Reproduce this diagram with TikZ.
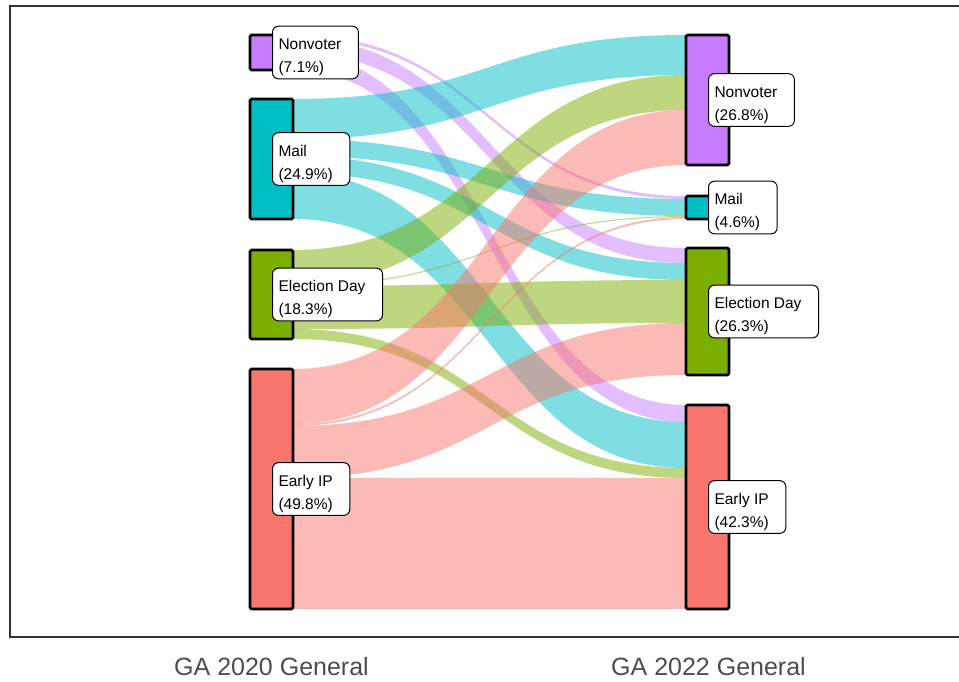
\documentclass[tikz,border=0pt]{standalone}
\usepackage{fontspec}
\setmainfont{Liberation Sans}
\definecolor{nvcol}{HTML}{C77CFF}
\definecolor{mailcol}{HTML}{00BFC4}
\definecolor{edcol}{HTML}{7CAE00}
\definecolor{eipcol}{HTML}{F8766D}
\definecolor{framecol}{HTML}{333333}
\definecolor{axiscol}{HTML}{4D4D4D}
% ribbon between the two columns: colour, left top, left bottom, right top, right bottom
\newcommand\ribbon[5]{%
  \fill[#1, fill opacity=0.5]
    (293,#2) .. controls (489.5,#2) and (489.5,#4) .. (686,#4)
    -- (686,#5) .. controls (489.5,#5) and (489.5,#3) .. (293,#3) -- cycle;}
% two-line stratum label with extra room on the right
\newcommand\lbltext[2]{\rule{0pt}{20.5pt}#1\hspace*{11pt}\\#2\hspace*{11pt}}
\tikzset{
  stratum/.style={draw=black, line width=2.6pt, rounded corners=1.5pt,
    inner sep=0pt, minimum width=43pt},
  lbl/.style={draw=black, line width=1pt, fill=white, rounded corners=6pt,
    align=left, inner xsep=6pt, inner ysep=3pt, anchor=west,
    font=\fontsize{15.5}{23}\selectfont},
  axislbl/.style={text=axiscol, font=\fontsize{25}{30}\selectfont, anchor=base}
}
\begin{document}
\begin{tikzpicture}[x=1pt, y=-1pt]
\useasboundingbox (0,0) rectangle (959,681);
\clip (0,0) rectangle (959,681);
\fill[white] (0,0) rectangle (959,681);
% panel frame
\draw[framecol, line width=2.6pt] (10,6) rectangle (980,637);

% flows out of Nonvoter (2020)
\ribbon{nvcol}{35}{38}{196}{199}
\ribbon{nvcol}{38}{53}{248}{263}
\ribbon{nvcol}{53}{70}{405}{422}
% flows out of Mail (2020)
\ribbon{mailcol}{99}{139}{35}{75}
\ribbon{mailcol}{139}{156}{199}{216}
\ribbon{mailcol}{156}{173}{263}{280}
\ribbon{mailcol}{173}{219}{422}{468}
% flows out of Election Day (2020)
\ribbon{edcol}{250}{285}{75}{110}
\ribbon{edcol}{285}{286}{216}{217}
\ribbon{edcol}{286}{329}{280}{323}
\ribbon{edcol}{329}{339}{468}{478}
% flows out of Early IP (2020)
\ribbon{eipcol}{369}{424}{110}{165}
\ribbon{eipcol}{424}{426}{217}{219}
\ribbon{eipcol}{426}{478}{323}{375}
\ribbon{eipcol}{478}{609}{478}{609}

% 2020 strata
\node[stratum, fill=nvcol,   minimum height=35pt]  (lNV)  at (271.5,52.5) {};
\node[stratum, fill=mailcol, minimum height=120pt] (lML)  at (271.5,159) {};
\node[stratum, fill=edcol,   minimum height=89pt]  (lED)  at (271.5,294.5) {};
\node[stratum, fill=eipcol,  minimum height=240pt] (lEIP) at (271.5,489) {};
% 2022 strata
\node[stratum, fill=nvcol,   minimum height=130pt] (rNV)  at (707.5,100) {};
\node[stratum, fill=mailcol, minimum height=23pt]  (rML)  at (707.5,207.5) {};
\node[stratum, fill=edcol,   minimum height=127pt] (rED)  at (707.5,311.5) {};
\node[stratum, fill=eipcol,  minimum height=204pt] (rEIP) at (707.5,507) {};

% stratum labels
\node[lbl] (lNVt)  at (272,52.5)  {\lbltext{Nonvoter}{(7.1\%)}};
\node[lbl] (lMLt)  at (272,159)   {\lbltext{Mail}{(24.9\%)}};
\node[lbl] (lEDt)  at (272,294.5) {\lbltext{Election Day}{(18.3\%)}};
\node[lbl] (lEIPt) at (272,489)   {\lbltext{Early IP}{(49.8\%)}};
\node[lbl] (rNVt)  at (708,100)   {\lbltext{Nonvoter}{(26.8\%)}};
\node[lbl] (rMLt)  at (708,207.5) {\lbltext{Mail}{(4.6\%)}};
\node[lbl] (rEDt)  at (708,311.5) {\lbltext{Election Day}{(26.3\%)}};
\node[lbl] (rEIPt) at (708,507)   {\lbltext{Early IP}{(42.3\%)}};

% axis labels
\node[axislbl] (ax1) at (271.5,675) {GA 2020 General};
\node[axislbl] (ax2) at (708.5,675) {GA 2022 General};
\end{tikzpicture}
\end{document}
